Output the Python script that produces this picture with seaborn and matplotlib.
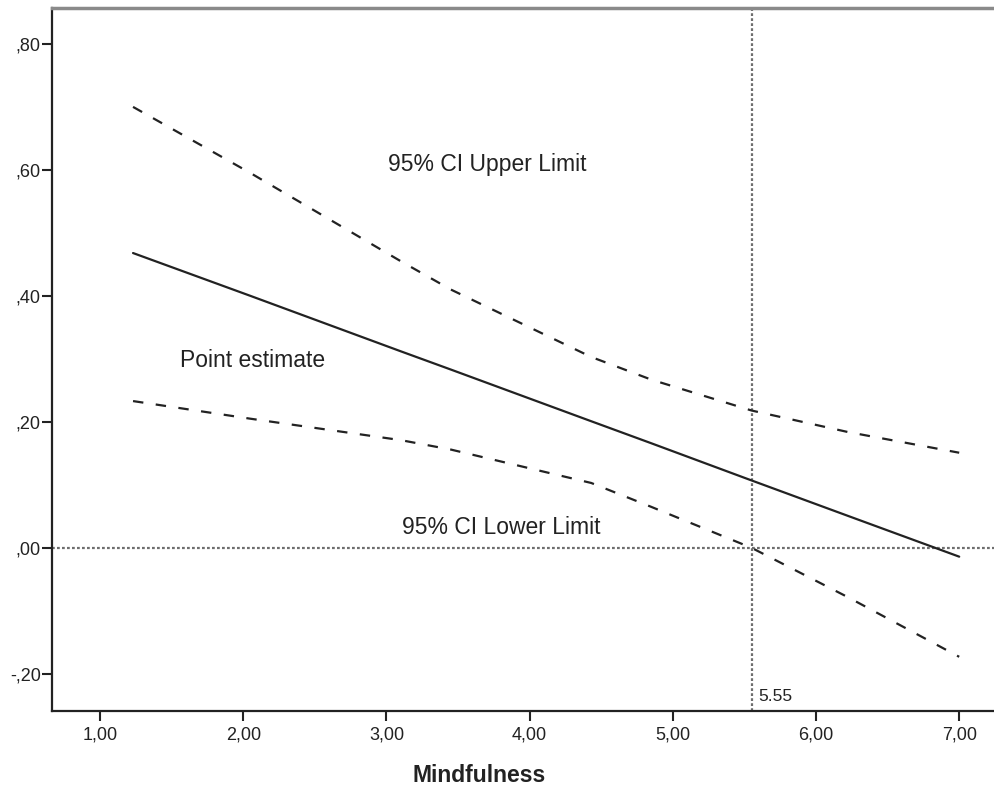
import numpy as np
import pandas as pd
import matplotlib
matplotlib.use("Agg")
import matplotlib.pyplot as plt
import seaborn as sns
from matplotlib.ticker import FuncFormatter

# values
mindfulness = [1.23, 2.05, 3.10, 3.45, 4.43, 4.85, 5.55, 6.22, 7.00]
point_est = [0.468, 0.400, 0.312, 0.283, 0.201, 0.166, 0.107, 0.051, -0.014]
ci_upper = [0.700, 0.595, 0.455, 0.410, 0.303, 0.267, 0.218, 0.184, 0.151]
ci_lower = [0.233, 0.205, 0.171, 0.156, 0.103, 0.065, 0.000, -0.078, -0.173]
jn_point = 5.55

x_ticks = [1, 2, 3, 4, 5, 6, 7]
y_ticks = [-0.2, 0.0, 0.2, 0.4, 0.6, 0.8]

sns.set_theme(style="white")
plt.rcParams["font.family"] = ["Liberation Sans", "DejaVu Sans"]
plt.rcParams["lines.scale_dashes"] = False

fig = plt.figure(figsize=(9.95, 7.89), dpi=100)
ax = fig.add_axes([52 / 995, 78 / 789, 943 / 995, 703 / 789])

df = pd.DataFrame({"x": mindfulness, "pe": point_est, "up": ci_upper, "lo": ci_lower})

sns.lineplot(data=df, x="x", y="pe", color="#222222", lw=1.6, ax=ax)
sns.lineplot(data=df, x="x", y="up", color="#222222", lw=1.6, ax=ax)
sns.lineplot(data=df, x="x", y="lo", color="#222222", lw=1.6, ax=ax)
for ln in ax.lines[1:]:
    ln.set_dashes((7.5, 9.0))

# reference lines
ax.axhline(0, color="#6e6e6e", lw=1.6, dashes=(2.0, 1.6), zorder=1)
ax.axvline(jn_point, color="#6e6e6e", lw=1.6, dashes=(2.0, 1.6), zorder=1)

# annotations
txt = dict(fontsize=16.5, color="#222222", va="center", ha="left")
ax.text(3.01, 0.608, "95% CI Upper Limit", **txt)
ax.text(1.56, 0.298, "Point estimate", **txt)
ax.text(3.11, 0.032, "95% CI Lower Limit", **txt)
ax.text(jn_point + 0.05, -0.236, f"{jn_point:.2f}", fontsize=12.5,
        color="#222222", va="center", ha="left")

ax.set_xlim(0.664, 7.25)
ax.set_ylim(-0.259, 0.857)
ax.set_xticks(x_ticks)
ax.set_yticks(y_ticks)

ax.xaxis.set_major_formatter(FuncFormatter(lambda v, p: f"{v:.2f}".replace(".", ",")))
ax.yaxis.set_major_formatter(
    FuncFormatter(lambda v, p: f"{v:.2f}".replace("0.", ".").replace(".", ",")))

ax.tick_params(axis="both", direction="out", length=7, width=1.5,
               colors="#222222", labelsize=13, left=True, bottom=True)
ax.tick_params(axis="y", pad=1)
ax.tick_params(axis="x", pad=4)

for side in ["left", "bottom"]:
    ax.spines[side].set_color("#222222")
    ax.spines[side].set_linewidth(1.6)
ax.spines["top"].set_color("#8a8a8a")
ax.spines["top"].set_linewidth(2.5)
ax.spines["right"].set_visible(False)

ax.set_ylabel("")
ax.set_xlabel("Mindfulness", fontsize=16.5, fontweight="bold", color="#222222")
ax.xaxis.label.set_va("center")
ax.xaxis.set_label_coords((479 - 52) / 943, -(775 - 711) / 703)

fig.savefig("out.png", dpi=100, facecolor="white")
